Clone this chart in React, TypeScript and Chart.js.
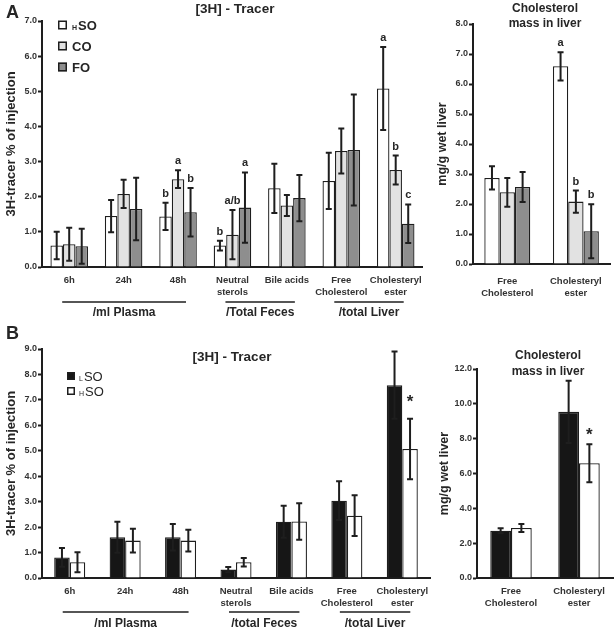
import React, { useEffect, useRef } from "react";
import { Chart, registerables } from "chart.js";
Chart.register(...registerables);

const FONT = "'Liberation Sans', Arial, Helvetica, sans-serif";
const INK = "#1e1e1e";
const TXT = "#262626";

// ---------- data ----------
const tracerCategories = [["6h"], ["24h"], ["48h"], ["Neutral", "sterols"], ["Bile acids"], ["Free", "Cholesterol"], ["Cholesteryl", "ester"]];
const massCategories = [["Free", "Cholesterol"], ["Cholesteryl", "ester"]];

const tracerGroupsA = ["/ml Plasma", "/Total Feces", "/total Liver"];
const tracerGroupsB = ["/ml Plasma", "/total Feces", "/total Liver"];
const tracerGroupSpans = [[0, 2], [3, 4], [5, 6]];

// Panel A – [3H] tracer (% of injection)
const aTracerHSO = [0.61, 1.45, 1.44, 0.61, 2.24, 2.45, 5.08];
const aTracerHSOErr = [0.39, 0.46, 0.39, 0.14, 0.70, 0.80, 1.18];
const aTracerHSOMarks = ["", "", "b", "b", "", "", "a"];
const aTracerCO = [0.65, 2.08, 2.50, 0.92, 1.75, 3.30, 2.76];
const aTracerCOErr = [0.47, 0.40, 0.25, 0.70, 0.30, 0.64, 0.41];
const aTracerCOMarks = ["", "", "a", "a/b", "", "", "b"];
const aTracerFO = [0.59, 1.65, 1.56, 1.69, 1.96, 3.33, 1.23];
const aTracerFOErr = [0.50, 0.89, 0.69, 1.00, 0.66, 1.58, 0.55];
const aTracerFOMarks = ["", "", "b", "a", "", "", "c"];

// Panel A – cholesterol mass (mg/g wet liver)
const aMassHSO = [2.87, 6.59];
const aMassHSOErr = [0.39, 0.47];
const aMassHSOMarks = ["", "a"];
const aMassCO = [2.39, 2.08];
const aMassCOErr = [0.48, 0.37];
const aMassCOMarks = ["", "b"];
const aMassFO = [2.57, 1.09];
const aMassFOErr = [0.50, 0.90];
const aMassFOMarks = ["", "b"];

// Panel B – [3H] tracer
const bTracerLSO = [0.81, 1.60, 1.60, 0.33, 2.21, 3.04, 7.58];
const bTracerLSOErr = [0.37, 0.61, 0.52, 0.10, 0.63, 0.76, 1.32];
const bTracerHSO = [0.62, 1.47, 1.47, 0.62, 2.22, 2.45, 5.07];
const bTracerHSOErr = [0.39, 0.47, 0.43, 0.17, 0.72, 0.80, 1.19];
const bTracerHSOMarks = ["", "", "", "", "", "", "*"];

// Panel B – cholesterol mass
const bMassLSO = [2.71, 9.54];
const bMassLSOErr = [0.14, 1.79];
const bMassHSO = [2.87, 6.59];
const bMassHSOErr = [0.23, 1.09];
const bMassHSOMarks = ["", "*"];

const WHITE = "#ffffff";
const LIGHT = "#e2e2e2";
const MID = "#8e8e8e";
const BLACK = "#161616";

// ---------- plugin ----------
const extrasPlugin = {
  id: "extras",
  afterDraw(chart: any, _args: any, opts: any) {
    const ctx = chart.ctx;
    const xs = chart.scales.x;
    const ys = chart.scales.y;
    const area = chart.chartArea;
    ctx.save();
    // error bars + marks
    chart.data.datasets.forEach((ds: any, di: number) => {
      const meta = chart.getDatasetMeta(di);
      meta.data.forEach((el: any, i: number) => {
        const v = ds.data[i];
        const e = ds.err ? ds.err[i] : 0;
        const yT = ys.getPixelForValue(v + e);
        const yB = ys.getPixelForValue(Math.max(v - e, 0));
        const x = el.x;
        if (e > 0) {
          ctx.strokeStyle = INK;
          ctx.lineWidth = 2;
          ctx.beginPath();
          ctx.moveTo(x, yT);
          ctx.lineTo(x, yB);
          ctx.moveTo(x - 3, yT);
          ctx.lineTo(x + 3, yT);
          ctx.moveTo(x - 3, yB);
          ctx.lineTo(x + 3, yB);
          ctx.stroke();
        }
        const m = ds.marks ? ds.marks[i] : "";
        if (m) {
          ctx.fillStyle = TXT;
          ctx.textAlign = "center";
          ctx.textBaseline = "alphabetic";
          if (m === "*") {
            ctx.font = `bold 17px ${FONT}`;
            ctx.fillText(m, x, yT - opts.starGap);
          } else {
            ctx.font = `bold 11px ${FONT}`;
            ctx.fillText(m, x, yT - 6);
          }
        }
      });
    });
    // group labels
    if (opts.groups) {
      opts.groups.forEach((g: string, gi: number) => {
        const [a, b] = opts.spans[gi];
        const x0 = xs.getPixelForValue(a) - 7;
        const x1 = xs.getPixelForValue(b) + 8;
        const yl = area.bottom + opts.groupLine;
        ctx.strokeStyle = INK;
        ctx.lineWidth = 1.6;
        ctx.beginPath();
        ctx.moveTo(x0, yl);
        ctx.lineTo(x1, yl);
        ctx.stroke();
        ctx.fillStyle = TXT;
        ctx.font = `bold 12px ${FONT}`;
        ctx.textAlign = "center";
        ctx.textBaseline = "middle";
        ctx.fillText(g, (x0 + x1) / 2, area.bottom + opts.groupText);
      });
    }
    // titles
    (opts.titles || []).forEach((t: any) => {
      ctx.fillStyle = TXT;
      ctx.font = t.font;
      ctx.textAlign = "center";
      ctx.textBaseline = "middle";
      ctx.fillText(t.text, t.x, t.y);
    });
    // legend
    if (opts.legend) {
      const L = opts.legend;
      chart.data.datasets.forEach((ds: any, di: number) => {
        const cy = L.y + di * L.dy;
        ctx.fillStyle = ds.backgroundColor;
        ctx.fillRect(L.x, cy - L.box / 2, L.box, L.box);
        ctx.strokeStyle = INK;
        ctx.lineWidth = 1.5;
        ctx.strokeRect(L.x + 0.75, cy - L.box / 2 + 0.75, L.box - 1.5, L.box - 1.5);
        let tx = L.x + L.box + L.gap;
        ctx.fillStyle = TXT;
        ctx.textAlign = "left";
        if (ds.sub) {
          ctx.font = `${L.weight} 7px ${FONT}`;
          ctx.textBaseline = "alphabetic";
          ctx.fillText(ds.sub, tx, cy + 5);
          tx += ctx.measureText(ds.sub).width + 1;
        }
        ctx.font = `${L.weight} ${L.size}px ${FONT}`;
        ctx.textBaseline = "middle";
        ctx.fillText(ds.main, tx, cy + 1);
      });
    }
    ctx.restore();
  },
};

type Series = { sub: string; name: string; values: number[]; err: number[]; marks?: string[]; color: string };
type Spec = {
  categories: string[][];
  series: Series[];
  yMax: number;
  yStep: number;
  yTitle: string;
  yTitleSize: number;
  padding: { left: number; right: number; top: number; bottom: number };
  yWidth: number;
  xHeight: number;
  xPad: number;
  catPct: number;
  extras: any;
};

function buildConfig(p: Spec): any {
  return {
    type: "bar",
    data: {
      labels: p.categories,
      datasets: p.series.map((s) => ({
        label: s.sub + s.name,
        sub: s.sub,
        main: s.name,
        data: s.values,
        err: s.err,
        marks: s.marks,
        backgroundColor: s.color,
        borderColor: INK,
        borderWidth: 1.3,
        categoryPercentage: p.catPct,
        barPercentage: 1,
      })),
    },
    options: {
      responsive: false,
      animation: false,
      events: [],
      layout: { padding: p.padding },
      plugins: {
        legend: { display: false },
        tooltip: { enabled: false },
        title: { display: false },
        extras: p.extras,
      },
      scales: {
        x: {
          grid: { display: false, drawTicks: false },
          border: { display: true, color: INK, width: 2 },
          ticks: {
            font: { family: FONT, size: 9.5, weight: "bold" },
            color: "#333",
            padding: p.xPad,
            maxRotation: 0,
            autoSkip: false,
          },
          afterFit: (s: any) => {
            s.height = p.xHeight;
          },
        },
        y: {
          min: 0,
          max: p.yMax,
          ticks: {
            stepSize: p.yStep,
            callback: (v: any) => Number(v).toFixed(1),
            font: { family: FONT, size: 9, weight: "bold" },
            color: "#333",
            padding: 1,
          },
          grid: { display: true, drawOnChartArea: false, drawTicks: true, tickLength: 4, tickColor: INK, tickWidth: 2, color: INK },
          border: { display: true, color: INK, width: 2 },
          title: {
            display: true,
            text: p.yTitle,
            font: { family: FONT, size: p.yTitleSize, weight: "bold" },
            color: TXT,
            padding: { top: 4, bottom: 0 },
          },
          afterFit: (s: any) => {
            s.width = p.yWidth;
          },
        },
      },
    },
    plugins: [extrasPlugin],
  };
}

function ChartBox({ spec, left, top, width, height }: { spec: Spec; left: number; top: number; width: number; height: number }) {
  const ref = useRef<HTMLCanvasElement | null>(null);
  useEffect(() => {
    if (!ref.current) return;
    const chart = new Chart(ref.current, buildConfig(spec));
    return () => chart.destroy();
  }, []);
  return (
    <canvas
      ref={ref}
      width={width}
      height={height}
      style={{ position: "absolute", left, top, width, height }}
    />
  );
}

const specATracer: Spec = {
  categories: tracerCategories,
  series: [
    { sub: "H", name: "SO", values: aTracerHSO, err: aTracerHSOErr, marks: aTracerHSOMarks, color: WHITE },
    { sub: "", name: "CO", values: aTracerCO, err: aTracerCOErr, marks: aTracerCOMarks, color: LIGHT },
    { sub: "", name: "FO", values: aTracerFO, err: aTracerFOErr, marks: aTracerFOMarks, color: MID },
  ],
  yMax: 7,
  yStep: 1,
  yTitle: "3H-tracer % of injection",
  yTitleSize: 13,
  padding: { left: 0, right: 6, top: 21, bottom: 0 },
  yWidth: 42,
  xHeight: 63,
  xPad: 8,
  catPct: 0.69,
  extras: {
    groups: tracerGroupsA,
    spans: tracerGroupSpans,
    groupLine: 35,
    groupText: 46,
    starGap: 6,
    titles: [{ text: "[3H] - Tracer", x: 235, y: 9, font: `bold 13.5px ${FONT}` }],
    legend: { x: 58, y: 25, dy: 21, box: 9, gap: 5, size: 13, weight: "bold" },
  },
};

const specAMass: Spec = {
  categories: massCategories,
  series: [
    { sub: "H", name: "SO", values: aMassHSO, err: aMassHSOErr, marks: aMassHSOMarks, color: WHITE },
    { sub: "", name: "CO", values: aMassCO, err: aMassCOErr, marks: aMassCOMarks, color: LIGHT },
    { sub: "", name: "FO", values: aMassFO, err: aMassFOErr, marks: aMassFOMarks, color: MID },
  ],
  yMax: 8,
  yStep: 1,
  yTitle: "mg/g wet liver",
  yTitleSize: 12.5,
  padding: { left: 11, right: 1, top: 24, bottom: 0 },
  yWidth: 42,
  xHeight: 66,
  xPad: 12,
  catPct: 0.67,
  extras: {
    starGap: 6,
    titles: [
      { text: "Cholesterol", x: 125, y: 9, font: `bold 12px ${FONT}` },
      { text: "mass in liver", x: 125, y: 24, font: `bold 12px ${FONT}` },
    ],
  },
};

const specBTracer: Spec = {
  categories: tracerCategories,
  series: [
    { sub: "L", name: "SO", values: bTracerLSO, err: bTracerLSOErr, color: BLACK },
    { sub: "H", name: "SO", values: bTracerHSO, err: bTracerHSOErr, marks: bTracerHSOMarks, color: WHITE },
  ],
  yMax: 9,
  yStep: 1,
  yTitle: "3H-tracer % of injection",
  yTitleSize: 13,
  padding: { left: 0, right: 10, top: 19, bottom: 0 },
  yWidth: 42,
  xHeight: 55,
  xPad: 8,
  catPct: 0.56,
  extras: {
    groups: tracerGroupsB,
    spans: tracerGroupSpans,
    groupLine: 34,
    groupText: 46,
    starGap: 12,
    titles: [{ text: "[3H] - Tracer", x: 232, y: 27, font: `bold 13.5px ${FONT}` }],
    legend: { x: 67, y: 46, dy: 15, box: 8, gap: 4, size: 13, weight: "normal" },
  },
};

const specBMass: Spec = {
  categories: massCategories,
  series: [
    { sub: "L", name: "SO", values: bMassLSO, err: bMassLSOErr, color: BLACK },
    { sub: "H", name: "SO", values: bMassHSO, err: bMassHSOErr, marks: bMassHSOMarks, color: WHITE },
  ],
  yMax: 12,
  yStep: 2,
  yTitle: "mg/g wet liver",
  yTitleSize: 12.5,
  padding: { left: 13, right: 1, top: 39, bottom: 0 },
  yWidth: 44,
  xHeight: 55,
  xPad: 8,
  catPct: 0.61,
  extras: {
    starGap: 4,
    titles: [
      { text: "Cholesterol", x: 128, y: 26, font: `bold 12px ${FONT}` },
      { text: "mass in liver", x: 128, y: 42, font: `bold 12px ${FONT}` },
    ],
  },
};

export default function App() {
  const letter: React.CSSProperties = {
    position: "absolute",
    fontFamily: FONT,
    fontWeight: "bold",
    fontSize: 18,
    color: TXT,
    lineHeight: "18px",
  };
  return (
    <div style={{ position: "fixed", left: 0, top: 0, width: 614, height: 633, background: "#fff", overflow: "hidden" }}>
      <ChartBox spec={specATracer} left={0} top={0} width={430} height={330} />
      <ChartBox spec={specAMass} left={420} top={0} width={194} height={330} />
      <ChartBox spec={specBTracer} left={0} top={330} width={440} height={303} />
      <ChartBox spec={specBMass} left={420} top={330} width={194} height={303} />
      <div style={{ ...letter, left: 6, top: 3 }}>A</div>
      <div style={{ ...letter, left: 6, top: 324 }}>B</div>
    </div>
  );
}
